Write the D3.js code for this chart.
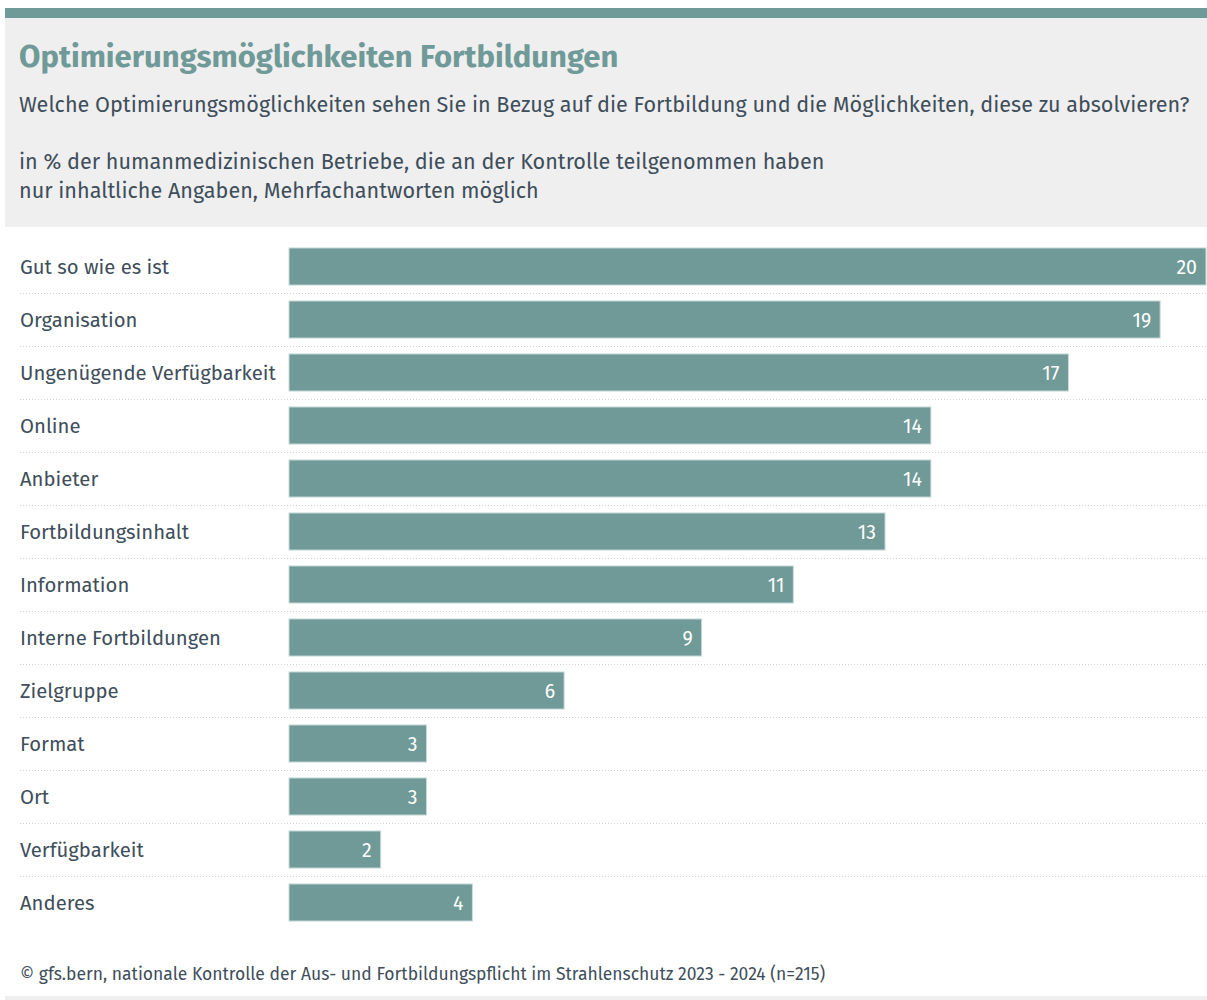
<!DOCTYPE html>
<html>
<head>
<meta charset="utf-8">
<script src="https://cdn.jsdelivr.net/npm/d3@7"></script>
<style>
  body { margin: 0; background: #fff; }
  svg text { font-family: "Fira Sans", "Open Sans", sans-serif; }
</style>
</head>
<body>
<svg id="chart" width="1207" height="1000"></svg>
<script>
var categories = ["Gut so wie es ist", "Organisation", "Ungenügende Verfügbarkeit", "Online", "Anbieter",
    "Fortbildungsinhalt", "Information", "Interne Fortbildungen", "Zielgruppe", "Format", "Ort",
    "Verfügbarkeit", "Anderes"];
var values = [20, 19, 17, 14, 14, 13, 11, 9, 6, 3, 3, 2, 4];

var title = "Optimierungsmöglichkeiten Fortbildungen";
var subtitle = "Welche Optimierungsmöglichkeiten sehen Sie in Bezug auf die Fortbildung und die Möglichkeiten, diese zu absolvieren?";
var notes = ["in % der humanmedizinischen Betriebe, die an der Kontrolle teilgenommen haben",
    "nur inhaltliche Angaben, Mehrfachantworten möglich"];
var source = "© gfs.bern, nationale Kontrolle der Aus- und Fortbildungspflicht im Strahlenschutz 2023 - 2024 (n=215)";

var TEAL = "#6f9a97",
    TEXT = "#3e4e5a";

var svg = d3.select("#chart");

// header box
svg.append("rect").attr("x", 5).attr("y", 8).attr("width", 1202).attr("height", 219).attr("fill", "#efefef");
svg.append("rect").attr("x", 5).attr("y", 8).attr("width", 1202).attr("height", 10).attr("fill", TEAL);

svg.append("text").attr("x", 19).attr("y", 67)
    .attr("font-size", 31).attr("font-weight", 700).attr("fill", TEAL)
    .text(title);
svg.append("text").attr("x", 19).attr("y", 112)
    .attr("font-size", 21.6).attr("fill", TEXT)
    .text(subtitle);
svg.selectAll("text.note").data(notes).enter().append("text")
    .attr("class", "note")
    .attr("x", 19).attr("y", function (d, i) { return 169 + i * 29; })
    .attr("font-size", 21.6).attr("fill", TEXT)
    .text(function (d) { return d; });

// scales
var x = d3.scaleLinear().domain([0, 20]).range([289, 1206]);
var y = d3.scaleBand().domain(categories).range([240, 240 + 53 * categories.length])
    .paddingInner(0.3).paddingOuter(0.15);

var rows = svg.append("g").selectAll("g").data(categories).enter().append("g");

// dotted separators
rows.filter(function (d, i) { return i < categories.length - 1; })
    .append("line")
    .attr("x1", 20).attr("x2", 1206)
    .attr("y1", function (d) { return Math.round(y(d) + y.bandwidth() + y.step() * 0.15) + 0.5; })
    .attr("y2", function (d) { return Math.round(y(d) + y.bandwidth() + y.step() * 0.15) + 0.5; })
    .attr("stroke", "#d2d2d2").attr("stroke-width", 1).attr("stroke-dasharray", "1,2");

rows.append("text")
    .attr("x", 20)
    .attr("y", function (d) { return y(d) + y.bandwidth() / 2; })
    .attr("dy", "0.36em")
    .attr("font-size", 20.3).attr("fill", TEXT)
    .text(function (d) { return d; });

rows.append("rect")
    .attr("x", x(0))
    .attr("y", function (d) { return y(d); })
    .attr("width", function (d, i) { return x(values[i]) - x(0); })
    .attr("height", y.bandwidth())
    .attr("fill", TEAL)
    .attr("stroke", "#c9dcdb").attr("stroke-width", 1);

rows.append("text")
    .attr("x", function (d, i) { return x(values[i]) - 9; })
    .attr("y", function (d) { return y(d) + y.bandwidth() / 2; })
    .attr("dy", "0.36em")
    .attr("text-anchor", "end")
    .attr("font-size", 19.5).attr("fill", "#fff")
    .text(function (d, i) { return values[i]; });

// footer
svg.append("text").attr("x", 20).attr("y", 980)
    .attr("font-size", 17.5).attr("fill", TEXT)
    .text(source);
svg.append("rect").attr("x", 5).attr("y", 996).attr("width", 1202).attr("height", 4).attr("fill", "#efefef");
</script>
</body>
</html>
